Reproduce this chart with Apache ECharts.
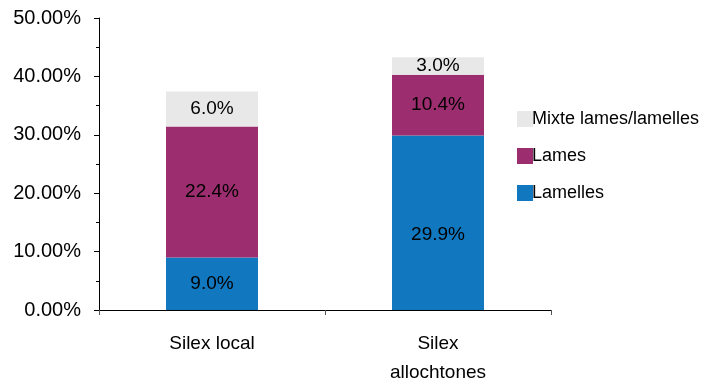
<!DOCTYPE html>
<html><head><meta charset="utf-8">
<script src="https://cdn.jsdelivr.net/npm/echarts@6/dist/echarts.min.js"></script>
<style>html,body{margin:0;padding:0;background:#fff}#c{width:719px;height:381px}</style>
</head><body><div id="c"></div>
<script>
const categories = ['Silex local', 'Silex\nallochtones'];
const lamelles = [9.0, 29.9];
const lames = [22.4, 10.4];
const mixte = [6.0, 3.0];
const yTicks = [0, 10, 20, 30, 40, 50];

const font = 'Liberation Sans, Arial, sans-serif';
const chart = echarts.init(document.getElementById('c'));
const lbl = {show: true, position: 'inside', color: '#000', fontFamily: font, fontSize: 19,
  formatter: p => p.value.toFixed(1) + '%'};
chart.setOption({
  animation: false,
  grid: {left: 99, right: 168, top: 18, bottom: 71, outerBoundsMode: 'none', containLabel: false},
  legend: {
    orient: 'vertical', left: 512, top: 105, itemWidth: 16, itemHeight: 16, itemGap: 19,
    data: ['Mixte lames/lamelles', 'Lames', 'Lamelles'],
    textStyle: {fontFamily: font, fontSize: 18, color: '#000', padding: [0, 0, 0, -6]},
    icon: 'rect'
  },
  xAxis: {
    type: 'category', data: categories,
    axisLine: {lineStyle: {color: '#000', width: 1}},
    axisTick: {show: true, length: 5, lineStyle: {color: '#555'}},
    axisLabel: {fontFamily: font, fontSize: 19, color: '#000', margin: 19, lineHeight: 29}
  },
  yAxis: {
    type: 'value', min: yTicks[0], max: yTicks[yTicks.length - 1], interval: 10,
    axisLine: {show: true, lineStyle: {color: '#000'}},
    axisTick: {show: true, length: 5, lineStyle: {color: '#000'}},
    minorTick: {show: true, splitNumber: 2, length: 3, lineStyle: {color: '#000'}},
    splitLine: {show: false},
    axisLabel: {fontFamily: font, fontSize: 20, color: '#000', margin: 18,
      formatter: v => v.toFixed(2) + '%'}
  },
  series: [
    {name: 'Lamelles', type: 'bar', stack: 's', barWidth: 92,
      data: lamelles.map((v, i) => i === 1 ? {value: v, label: {offset: [0, 12]}} : v),
      itemStyle: {color: '#1177bf'}, label: lbl},
    {name: 'Lames', type: 'bar', stack: 's', data: lames,
      itemStyle: {color: '#9c2e6f'}, label: lbl},
    {name: 'Mixte lames/lamelles', type: 'bar', stack: 's', data: mixte,
      itemStyle: {color: '#e8e8e8'}, label: lbl}
  ]
});
</script></body></html>
